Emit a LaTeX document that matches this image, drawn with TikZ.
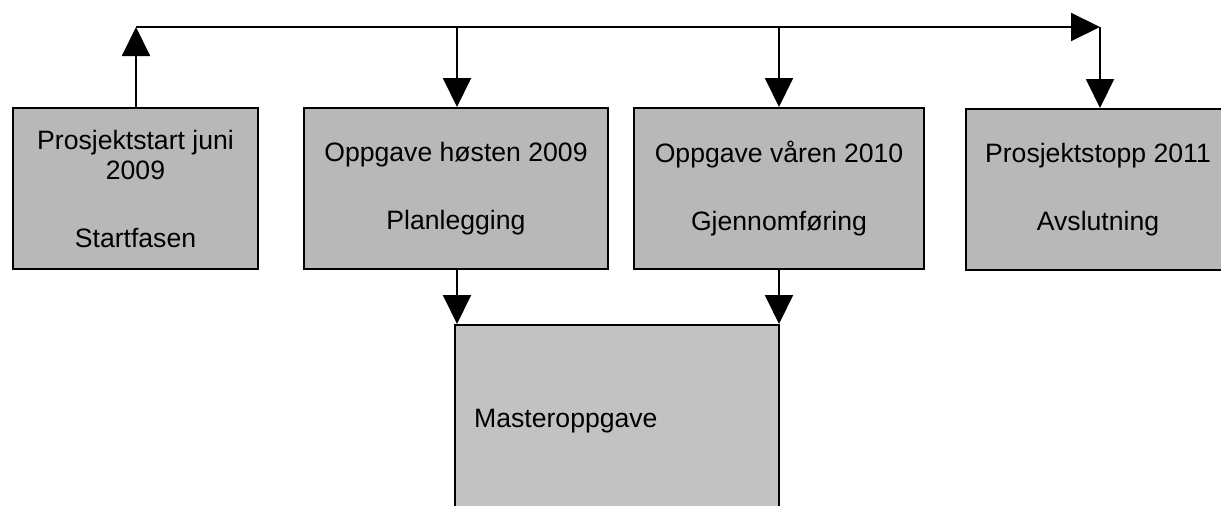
\documentclass[tikz,border=0pt]{standalone}
\usepackage{fontspec}
\setmainfont{Liberation Sans}
\usetikzlibrary{arrows.meta}

\tikzset{
  phase/.style={draw=black, line width=2pt, fill=black!28, anchor=north west,
    inner sep=0pt, align=center, font=\fontsize{26.6}{30}\selectfont},
  flow/.style={line width=2pt, -{Triangle[length=29pt,width=28pt]}}
}

\begin{document}
\begin{tikzpicture}[x=1pt, y=-1pt]
  \useasboundingbox (0,0) rectangle (1221,506);
  \clip (0,0) rectangle (1221,506);

  % phase boxes
  \node[phase, minimum width=245pt, minimum height=161pt] (start) at (12,107)
    {Prosjektstart juni\\2009\\[38pt]Startfasen};
  \node[phase, minimum width=304pt, minimum height=161pt] (plan) at (303,107)
    {Oppgave høsten 2009\\[38pt]Planlegging};
  \node[phase, minimum width=290pt, minimum height=161pt] (gjen) at (633,107)
    {Oppgave våren 2010\\[38pt]Gjennomføring};
  \node[phase, minimum width=264pt, minimum height=161pt] (avsl) at (965,108)
    {Prosjektstopp 2011\\[38pt]Avslutning};

  % thesis box, running past the lower edge
  \node[phase, fill=black!24, minimum width=324pt, minimum height=220pt] (master) at (454,324) {};
  \node[anchor=west, inner sep=0pt, font=\fontsize{26.6}{30}\selectfont] (mastertext) at (474,421) {Masteroppgave};

  % timeline
  \coordinate (tl) at (136,27);
  \coordinate (tr) at (1100,27);
  \coordinate (tp) at (457,27);
  \coordinate (tg) at (779,27);
  \draw[flow] (start.north -| tl) -- (tl);
  \draw[flow] (tl) -- (tr);
  \draw[flow] (tr) -- (tr |- avsl.north);
  \draw[flow] (tp) -- (tp |- plan.north);
  \draw[flow] (tg) -- (tg |- gjen.north);

  % into the thesis
  \draw[flow] (tp |- plan.south) -- (tp |- master.north);
  \draw[flow] (tg |- gjen.south) -- (tg |- master.north);
\end{tikzpicture}
\end{document}
